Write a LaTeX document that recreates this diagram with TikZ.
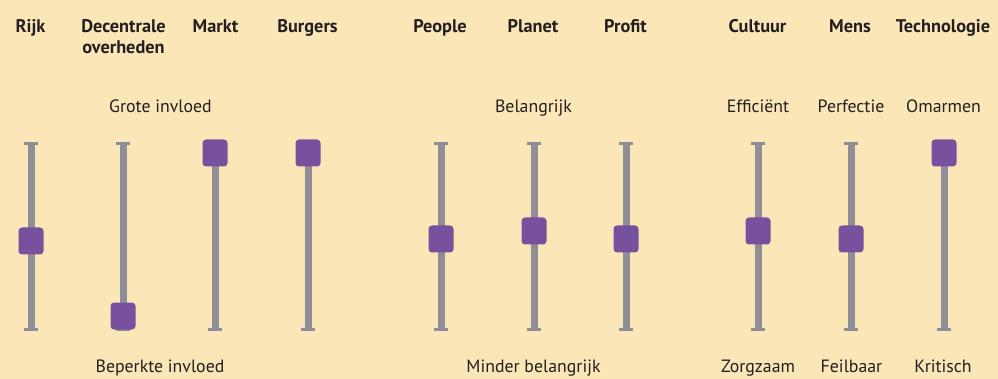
\documentclass[tikz,border=0pt]{standalone}
\usepackage{fontspec}
\setmainfont{PT Sans}
\begin{document}
\begin{tikzpicture}[x=1pt,y=-1pt,
  hdr/.style={font=\bfseries\fontsize{18.3}{21}\selectfont, text=txt, anchor=base, inner sep=0pt, align=center},
  lbl/.style={font=\fontsize{17.8}{19}\selectfont, text=txt, anchor=base, inner sep=0pt},
  bar/.style={draw=barc, line width=7pt},
  capline/.style={draw=barc, line width=3pt},
  knob/.style={fill=knobc, rounded corners=3.5pt, minimum width=25pt, minimum height=27pt, inner sep=0pt}]
\definecolor{bg}{HTML}{FBE6B8}
\definecolor{txt}{HTML}{231F20}
\definecolor{barc}{HTML}{8F8E96}
\definecolor{knobc}{HTML}{77519D}
\fill[bg] (0,0) rectangle (998,379);
\useasboundingbox (0,0) rectangle (998,379);
% headers
\node[hdr] (hRijk) at (30.5,33) {Rijk};
\node[hdr] (hDec) at (123.5,54) {Decentrale\\overheden};
\node[hdr] (hMarkt) at (215.5,33) {Markt};
\node[hdr] (hBurg) at (307.5,33) {Burgers};
\node[hdr] (hPeople) at (440,33) {People};
\node[hdr] (hPlanet) at (533,33) {Planet};
\node[hdr] (hProfit) at (625.5,33) {Profit};
\node[hdr] (hCult) at (757.5,33) {Cultuur};
\node[hdr] (hMens) at (850,33) {Mens};
\node[hdr] (hTech) at (943,33) {Technologie};
% top / bottom labels
\node[lbl] (tGrote) at (160.5,113) {Grote invloed};
\node[lbl] (bBeperkt) at (160,372) {Beperkte invloed};
\node[lbl] (tBel) at (533.5,113) {Belangrijk};
\node[lbl] (bMinder) at (533.5,372) {Minder belangrijk};
\node[lbl] (tEff) at (758,113) {Efficiënt};
\node[lbl] (tPerf) at (851,113) {Perfectie};
\node[lbl] (tOma) at (943.5,113) {Omarmen};
\node[lbl] (bZorg) at (758,372) {Zorgzaam};
\node[lbl] (bFeil) at (851.5,372) {Feilbaar};
\node[lbl] (bKrit) at (943,372) {Kritisch};
% sliders
\foreach \n/\x/\k in {rijk/31/241, dec/123/316, markt/215/153, burg/308/153,
                      people/441/239, planet/534/231, profit/626/239,
                      cult/758/231, mens/851/239, tech/944/153}{
  \coordinate (\n-top) at (\x,144);
  \coordinate (\n-bot) at (\x,329);
  \draw[bar] (\n-top) -- (\n-bot);
  \draw[capline] ([xshift=-7pt]\n-top) -- ([xshift=7pt]\n-top);
  \draw[capline] ([xshift=-7pt]\n-bot) -- ([xshift=7pt]\n-bot);
  \node[knob] (\n-knob) at (\x,\k) {};
}
\end{tikzpicture}
\end{document}
